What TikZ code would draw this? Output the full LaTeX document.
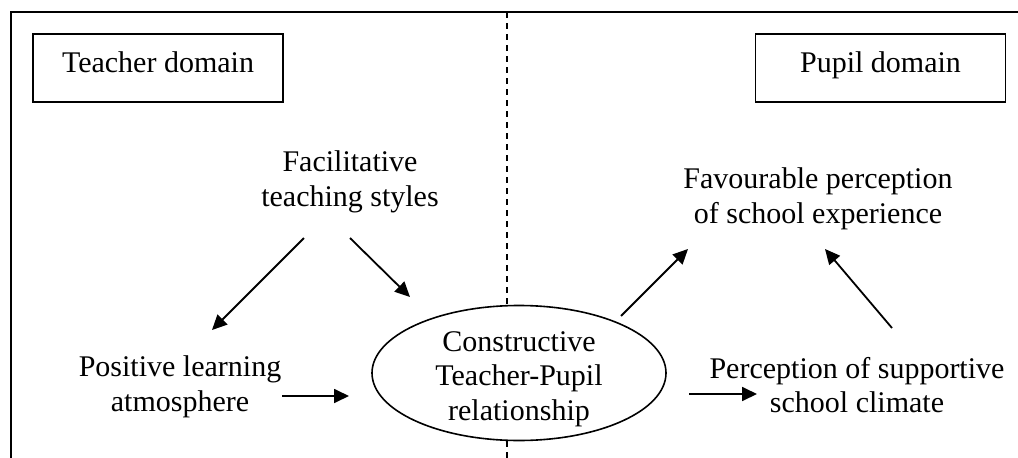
\documentclass[tikz,border=0pt]{standalone}
\usepackage{fontspec}
\setmainfont{Liberation Serif}
\usetikzlibrary{arrows.meta,shapes.geometric}
\tikzset{
  txt/.style={font=\fontsize{30}{34.5}\selectfont, align=center, inner sep=0pt},
  domainbox/.style={draw, line width=1.6pt, minimum width=250pt, minimum height=68pt, inner sep=0pt, font=\fontsize{30}{34.5}\selectfont, text height=21pt, text depth=13pt},
  frame/.style={line width=2pt},
  divider/.style={line width=1.6pt, dash pattern=on 6pt off 5pt},
  conn/.style={line width=1.8pt, -{Triangle[length=15pt,width=14pt]}},
  relshape/.style={draw, fill=white, ellipse, line width=1.6pt, minimum width=294pt, minimum height=135pt, inner sep=0pt}
}
\begin{document}
\begin{tikzpicture}[x=1pt,y=-1pt]
\useasboundingbox (0,0) rectangle (1018,458);
% frame
\coordinate (ftl) at (11,12);
\coordinate (ftr) at (1018,12);
\coordinate (fbl) at (11,458);
\coordinate (dtop) at (507,12);
\coordinate (dbot) at (507,458);
\draw[frame] (fbl) -- (ftl) -- (ftr);
\draw[divider] (dtop) -- (dbot);
% domain boxes
\node[domainbox] (teacher) at (158,68) {Teacher domain};
\node[domainbox] (pupil) at (880.5,68) {Pupil domain};
% text nodes
\node[txt] (facil) at (350,182) {Facilitative\\teaching styles};
\node[txt] (favour) at (818,199) {Favourable perception\\of school experience};
\node[txt] (posit) at (180,387) {Positive learning\\atmosphere};
\node[txt] (percep) at (857,385) {Perception of supportive\\school climate};
\node[relshape] (rel) at (519,373) {};
\node[txt] (reltext) at (519,379) {Constructive\\Teacher-Pupil\\relationship};
% arrow end points
\coordinate (a1s) at (304,238); \coordinate (a1e) at (212,330);
\coordinate (a2s) at (350,238); \coordinate (a2e) at (410,297);
\coordinate (a3s) at (282,396); \coordinate (a3e) at (349,396);
\coordinate (a4s) at (621,316); \coordinate (a4e) at (688,249);
\coordinate (a5s) at (689,394); \coordinate (a5e) at (757,394);
\coordinate (a6s) at (892,328); \coordinate (a6e) at (825,249);
\draw[conn] (a1s) -- (a1e);
\draw[conn] (a2s) -- (a2e);
\draw[conn] (a3s) -- (a3e);
\draw[conn] (a4s) -- (a4e);
\draw[conn] (a5s) -- (a5e);
\draw[conn] (a6s) -- (a6e);
\end{tikzpicture}
\end{document}
